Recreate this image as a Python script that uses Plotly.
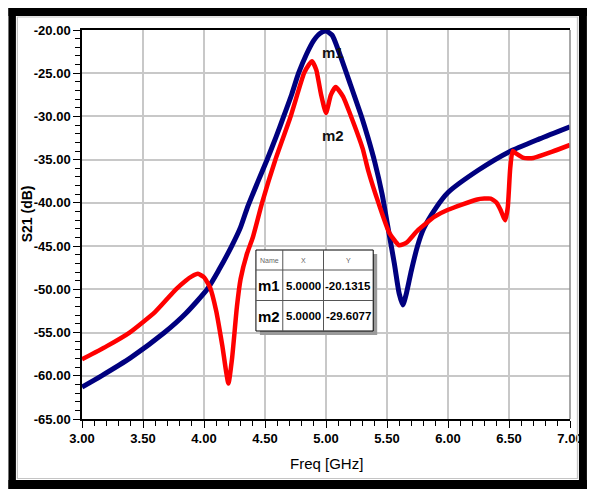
import plotly.graph_objects as go

# ---------------- data ----------------
blue_freq = [3.00, 3.16, 3.40, 3.676, 3.85, 4.026, 4.12, 4.227, 4.30, 4.354, 4.44, 4.517,
             4.59, 4.653, 4.72, 4.775, 4.84, 4.90, 4.95, 5.00, 5.05, 5.10, 5.20, 5.30,
             5.345, 5.40, 5.46, 5.50, 5.56, 5.60, 5.63, 5.66, 5.70, 5.75, 5.80, 5.90,
             6.00, 6.25, 6.50, 6.75, 7.00]
blue_db = [-61.3, -60.0, -57.9, -55.0, -52.8, -50.0, -47.8, -45.0, -42.8, -40.6, -37.6, -35.0,
           -32.4, -30.0, -27.4, -25.0, -22.8, -21.2, -20.4, -20.13, -20.6, -22.3, -26.3, -30.4,
           -32.5, -35.3, -39.0, -42.2, -47.0, -50.5, -51.8, -50.4, -47.8, -45.0, -43.0, -40.6,
           -38.8, -36.2, -34.1, -32.6, -31.2]

red_freq = [3.00, 3.20, 3.39, 3.60, 3.77, 3.85, 3.90, 3.95, 4.00, 4.05, 4.10, 4.15,
            4.20, 4.23, 4.27, 4.30, 4.354, 4.40, 4.476, 4.585, 4.71, 4.82, 4.86, 4.885,
            4.92, 4.96, 5.00, 5.04, 5.08, 5.14, 5.20, 5.30, 5.345, 5.43, 5.52, 5.60,
            5.66, 5.75, 5.89, 6.00, 6.24, 6.35, 6.40, 6.43, 6.46, 6.47, 6.49, 6.51,
            6.53, 6.56, 6.62, 6.70, 6.85, 7.00]
red_db = [-58.1, -56.6, -55.0, -52.6, -50.0, -49.0, -48.5, -48.2, -48.6, -49.8, -52.5, -56.5,
          -60.9, -58.0, -52.0, -48.8, -45.8, -44.0, -40.0, -35.0, -30.0, -25.0, -24.0, -23.6,
          -24.6, -27.5, -29.61, -27.5, -26.6, -27.7, -29.8, -33.7, -36.2, -40.0, -43.5, -44.9,
          -44.6, -43.2, -41.6, -40.8, -39.6, -39.5, -40.0, -40.8, -41.8, -42.0, -40.5, -36.0,
          -34.0, -34.3, -34.8, -34.8, -34.1, -33.3]

x_ticks = [3.0, 3.5, 4.0, 4.5, 5.0, 5.5, 6.0, 6.5, 7.0]
y_ticks = [-65, -60, -55, -50, -45, -40, -35, -30, -25, -20]

marker_names = ["m1", "m2"]
marker_x = [5.0, 5.0]
marker_y = [-20.1315, -29.6077]

# ---------------- layout helpers ----------------
# The page body has an 8 px default margin, so the figure is drawn 8 px in
# from the window corner; all reference pixel positions are shifted by OFF.
OFF = 8
W, H = 595 - OFF, 489 - OFF
L, R, T, B = 82 - OFF, 573 - OFF, 30 - OFF, 419 - OFF


def px(x):  # reference window pixel -> paper x
    return (x - OFF - L) / (R - L)


def py(y):  # reference window pixel -> paper y
    return (B - (y - OFF)) / (B - T)


FONT = "Liberation Sans, Arial, sans-serif"

fig = go.Figure()
fig.add_trace(go.Scatter(x=blue_freq, y=blue_db, mode="lines",
                         line=dict(color="#00007f", width=5, shape="spline", smoothing=0.6),
                         showlegend=False, hoverinfo="x+y"))
fig.add_trace(go.Scatter(x=red_freq, y=red_db, mode="lines",
                         line=dict(color="#ff0000", width=4.5, shape="spline", smoothing=0.5),
                         showlegend=False, hoverinfo="x+y"))

shapes = []


def band(x0, x1, y0, y1, color="black"):
    shapes.append(dict(type="rect", xref="paper", yref="paper", x0=px(x0), x1=px(x1),
                       y0=py(y0), y1=py(y1), fillcolor=color, line=dict(width=0), layer="above"))


# outer frame
band(8, 590, 8, 16)             # thick top
band(8, 15.5, 8, 489)           # thick left
band(582, 590, 8, 489)          # thick right
band(8, 590, 480, 489)          # thick bottom
shapes.append(dict(type="rect", xref="paper", yref="paper", x0=px(17), x1=px(580.5), y0=py(17), y1=py(478.5),
                   line=dict(color="#c4c4c4", width=1.2), layer="above"))
# right plot border (gray)
shapes.append(dict(type="line", xref="paper", yref="paper", x0=1, x1=1, y0=0, y1=1,
                   line=dict(color="#8a8a8a", width=1.5), layer="above"))
# marker table
tx0, tx1, ty0, ty1 = 257, 375, 250, 331
band(tx0 + 4, tx1 + 4, ty0 + 4, ty1 + 4, color="#9a9a9a")
shapes.append(dict(type="rect", xref="paper", yref="paper", x0=px(tx0), x1=px(tx1),
                   y0=py(ty0), y1=py(ty1), fillcolor="white", line=dict(color="black", width=1), layer="above"))
for yy in (270, 300.5):
    shapes.append(dict(type="line", xref="paper", yref="paper", x0=px(tx0), x1=px(tx1), y0=py(yy), y1=py(yy),
                       line=dict(color="#555555", width=1), layer="above"))
for xx in (284, 325):
    shapes.append(dict(type="line", xref="paper", yref="paper", x0=px(xx), x1=px(xx), y0=py(ty0), y1=py(ty1),
                       line=dict(color="#555555", width=1), layer="above"))

annotations = []


def ann(text, x, y, size, color="black", bold=False, angle=0):
    annotations.append(dict(text=("<b>%s</b>" % text) if bold else text, x=px(x), y=py(y),
                            xref="paper", yref="paper", showarrow=False, textangle=angle,
                            xanchor="center", yanchor="middle",
                            font=dict(family=FONT, size=size, color=color)))


ann("S21 (dB)", 27, 214, 14, bold=True, angle=-90)
ann("Freq [GHz]", 327.5, 464, 15)
# marker labels (placed by their data coordinates)
for name, mx, my, dy, dx in zip(marker_names, marker_x, marker_y, [21, 22], [6.5, 6.5]):
    annotations.append(dict(text="<b>%s</b>" % name, x=mx, y=my, xref="x", yref="y", showarrow=False,
                            xshift=dx, yshift=-dy, font=dict(family=FONT, size=15, color="#111111")))
# table texts
col_c = [(tx0 + 284) / 2, (284 + 325) / 2, (325 + tx1) / 2]
for txt, cx in zip(["Name", "X", "Y"], col_c):
    ann(txt, cx, 260.5, 7, color="#666666")
for i, (name, mx, my) in enumerate(zip(marker_names, marker_x, marker_y)):
    yy = 285.5 + i * 30.5
    ann(name, col_c[0], yy, 15, bold=True)
    ann("%.4f" % mx, col_c[1], yy, 11.5, bold=True)
    ann("%.4f" % my, col_c[2], yy, 11.5, bold=True)

tick_font = dict(family=FONT, size=13, color="black", weight="bold")
fig.update_layout(
    width=W, height=H,
    margin=dict(l=L, r=W - R, t=T, b=H - B, pad=0),
    paper_bgcolor="white", plot_bgcolor="white",
    shapes=shapes, annotations=annotations,
    font=dict(family=FONT, size=14, color="black"),
    xaxis=dict(range=[3, 7], tickvals=x_ticks, ticktext=["%.2f" % v for v in x_ticks],
               showgrid=True, gridcolor="#c8c8c8", gridwidth=1.5, zeroline=False,
               showline=True, linecolor="black", linewidth=1.5, mirror=True,
               ticks="outside", ticklen=7, tickcolor="black", tickwidth=1,
               minor=dict(dtick=0.1, ticks="outside", ticklen=5, tickcolor="black", showgrid=False),
               tickfont=tick_font),
    yaxis=dict(range=[-65, -20], tickvals=y_ticks, ticktext=["%.2f" % v for v in y_ticks],
               showgrid=True, gridcolor="#c8c8c8", gridwidth=1.5, zeroline=False,
               showline=True, linecolor="black", linewidth=1.5,
               ticks="outside", ticklen=7, tickcolor="black", tickwidth=1,
               minor=dict(dtick=1, ticks="outside", ticklen=5, tickcolor="black", showgrid=False),
               tickfont=tick_font),
)

fig.write_html("out.html")
